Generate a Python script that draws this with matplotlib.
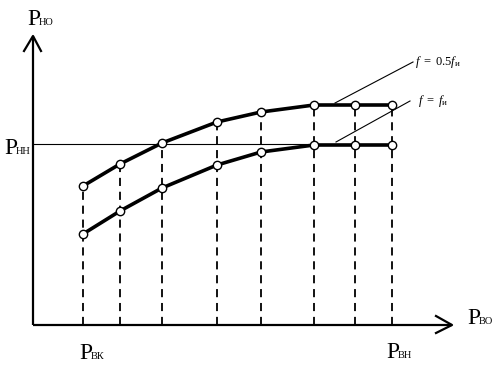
import matplotlib
matplotlib.use("Agg")
import matplotlib.pyplot as plt

# Data (schematic units: origin at axes crossing)
p_vo = [50, 87, 129, 184, 228, 281, 322, 359]          # P_VO positions of the points
p_no_half = [139, 161, 182, 203, 213, 220, 220, 220]   # curve f = 0.5 f_и
p_no_full = [91, 114, 137, 160, 173, 180, 180, 180]    # curve f = f_и
p_nn_level = 181
curve_labels = [r"$f\ =\ 0.5f_{\mathrm{и}}$", r"$f\ =\ f_{\mathrm{и}}$"]

plt.rcParams["mathtext.fontset"] = "custom"
plt.rcParams["mathtext.rm"] = "Liberation Serif"
plt.rcParams["mathtext.it"] = "Liberation Serif:italic"

fig = plt.figure(figsize=(4.93, 3.66), dpi=100)
ax = fig.add_axes([0, 0, 1, 1])
ax.set_xlim(-33, 460)
ax.set_ylim(-41, 325)
ax.axis("off")

serif = "Liberation Serif"

# axes with open arrow heads
ax.plot([0, 0], [0, 289], color="black", lw=1.6, solid_capstyle="butt")
ax.plot([0, 419], [0, 0], color="black", lw=1.6, solid_capstyle="butt")
ax.plot([-9, 0, 8], [274, 289, 274], color="black", lw=1.6)
ax.plot([403, 419, 403], [9, 0, -8], color="black", lw=1.6)

# P_NN level line
ax.plot([0, p_vo[-1]], [p_nn_level, p_nn_level], color="black", lw=0.8)

# dashed verticals
for x, y in zip(p_vo, p_no_half):
    ax.plot([x, x], [0, y], color="black", lw=1.3, dashes=(4.5, 3.2))

# curves
for ys in (p_no_half, p_no_full):
    ax.plot(p_vo, ys, color="black", lw=2.6, zorder=3,
            marker="o", ms=6, mfc="white", mec="black", mew=1.0)

# leader lines and labels
ax.plot([302, 380], [222, 263], color="black", lw=0.8)
ax.plot([303, 377], [183, 224], color="black", lw=0.8)
ax.text(382, 263, curve_labels[0], fontsize=9, va="center", ha="left")
ax.text(385, 224, curve_labels[1], fontsize=9, va="center", ha="left")

def plabel(x, y, sub):
    ax.text(x, y, "P", family=serif, fontsize=17, va="baseline", ha="left")
    ax.text(x + 12, y, sub, family=serif, fontsize=7.5, va="baseline", ha="left")

plabel(-6, 300, "НО")
plabel(-29, 171, "НН")
plabel(46, -34, "ВК")
plabel(353, -33, "ВН")
plabel(434, 1, "ВО")

fig.savefig("out.png", dpi=100)
